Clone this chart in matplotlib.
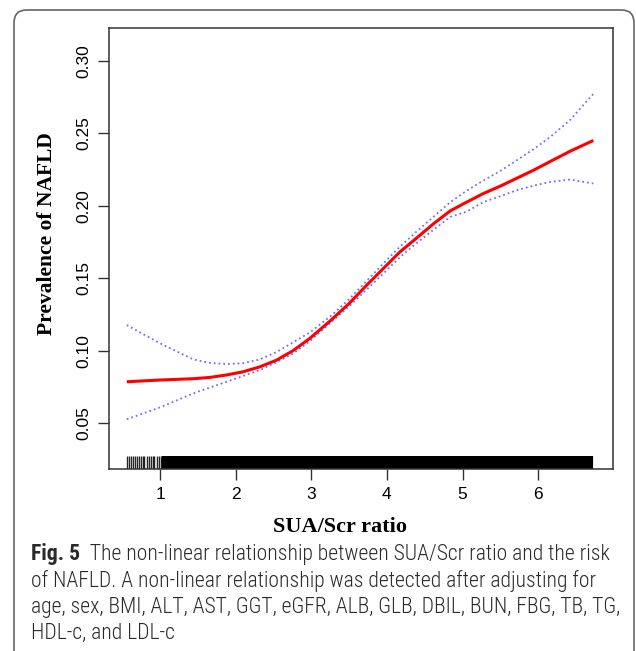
import numpy as np
import matplotlib
matplotlib.use('Agg')
import matplotlib.pyplot as plt
from matplotlib import font_manager
from matplotlib.patches import FancyBboxPatch

# fitted curve (red) and 95% CI (blue dotted)
ratio = [0.56, 1.00, 1.44, 1.66, 1.88, 2.10, 2.32, 2.54, 2.76, 2.98, 3.25, 3.50, 3.73,
         3.95, 4.17, 4.40, 4.62, 4.84, 5.06, 5.28, 5.50, 5.72, 5.94, 6.16, 6.42, 6.73]
fit = [0.0785, 0.0797, 0.0806, 0.0815, 0.0832, 0.0854, 0.0888, 0.0934, 0.1000, 0.1084,
       0.1205, 0.1325, 0.1450, 0.1565, 0.1680, 0.1780, 0.1877, 0.1965, 0.2026, 0.2085,
       0.2135, 0.2190, 0.2245, 0.2305, 0.2375, 0.2450]
upper = [0.1176, 0.1050, 0.0939, 0.0915, 0.0907, 0.0913, 0.0939, 0.0990, 0.1057, 0.1125,
         0.1235, 0.1355, 0.1480, 0.1600, 0.1716, 0.1825, 0.1925, 0.2025, 0.2105, 0.2175,
         0.2240, 0.2314, 0.2390, 0.2474, 0.2590, 0.2772]
lower = [0.0526, 0.0608, 0.0705, 0.0745, 0.0785, 0.0825, 0.0866, 0.0920, 0.0980, 0.1065,
         0.1190, 0.1305, 0.1420, 0.1530, 0.1643, 0.1745, 0.1835, 0.1923, 0.1960, 0.2026,
         0.2065, 0.2107, 0.2138, 0.2164, 0.2180, 0.2153]

# rug of observed SUA/Scr values
rug_sparse = [0.567, 0.594, 0.616, 0.639, 0.669, 0.692, 0.726, 0.744, 0.771, 0.792,
              0.824, 0.854, 0.877, 0.903, 0.925, 0.956, 0.987, 1.009, 1.030]
rug_dense = [1.05, 1.10, 1.15, 1.20, 1.25, 1.30, 1.35, 1.40, 1.45, 1.50, 1.55, 1.60,
             1.65, 1.70, 1.75, 1.80, 1.85, 1.90, 1.95, 2.00, 2.05, 2.10, 2.15, 2.20,
             2.25, 2.30, 2.35, 2.40, 2.45, 2.50, 2.55, 2.60, 2.65, 2.70, 2.75, 2.80,
             2.85, 2.90, 2.95, 3.00, 3.05, 3.10, 3.15, 3.20, 3.25, 3.30, 3.35, 3.40,
             3.45, 3.50, 3.55, 3.60, 3.65, 3.70, 3.75, 3.80, 3.85, 3.90, 3.95, 4.00,
             4.05, 4.10, 4.15, 4.20, 4.25, 4.30, 4.35, 4.40, 4.45, 4.50, 4.55, 4.60,
             4.65, 4.70, 4.75, 4.80, 4.85, 4.90, 4.95, 5.00, 5.05, 5.10, 5.15, 5.20,
             5.25, 5.30, 5.35, 5.40, 5.45, 5.50, 5.55, 5.60, 5.65, 5.70, 5.75, 5.80,
             5.85, 5.90, 5.95, 6.00, 6.05, 6.10, 6.15, 6.20, 6.25, 6.30, 6.35, 6.40,
             6.45, 6.50, 6.55, 6.60, 6.65, 6.70]

x_ticks = [1, 2, 3, 4, 5, 6]
y_ticks = [0.05, 0.10, 0.15, 0.20, 0.25, 0.30]

caption_bold = 'Fig. 5'
caption_lines = [
    '  The non-linear relationship between SUA/Scr ratio and the risk',
    'of NAFLD. A non-linear relationship was detected after adjusting for',
    'age, sex, BMI, ALT, AST, GGT, eGFR, ALB, GLB, DBIL, BUN, FBG, TB, TG,',
    'HDL-c, and LDL-c',
]


def pick_font(names):
    for n in names:
        try:
            font_manager.findfont(n, fallback_to_default=False)
            return n
        except Exception:
            pass
    return 'DejaVu Sans'


cap_font = pick_font(['Roboto Condensed', 'Liberation Sans Narrow', 'Open Sans'])

W, H = 636, 651
fig = plt.figure(figsize=(W / 100, H / 100), dpi=100)

# rounded frame around the figure panel
frame = FancyBboxPatch((14 / W, -0.2), (634 - 14) / W, 1.2 - 10 / H,
                       boxstyle='round,pad=0,rounding_size=0.02',
                       transform=fig.transFigure, fill=False,
                       edgecolor='#666666', lw=1.2)
fig.patches.append(frame)

ax = fig.add_axes([109 / W, 1 - 469 / H, (613 - 109) / W, (469 - 28) / H])

ax.plot(ratio, upper, color='#6f6fff', ls=':', lw=1.3)
ax.plot(ratio, lower, color='#6f6fff', ls=':', lw=1.3)
ax.plot(ratio, fit, color='red', lw=2.2, solid_capstyle='butt')

ax.vlines(rug_sparse, 0, 0.03, transform=ax.get_xaxis_transform(),
          color='black', lw=1.0, alpha=0.85)
ax.vlines(rug_dense, 0, 0.03, transform=ax.get_xaxis_transform(),
          color='black', lw=3.0)

ax.set_xlim(0.325, 6.99)
ax.set_ylim(0.0183, 0.3226)
ax.set_xticks(x_ticks)
ax.set_xticklabels([str(t) for t in x_ticks], family='Liberation Sans', fontsize=12.5)
ax.set_yticks(y_ticks)
ax.set_yticklabels(['%.2f' % t for t in y_ticks], family='Liberation Sans',
                   fontsize=12.5, rotation=90, va='center')
ax.tick_params(direction='out', length=8, width=1.0, color='#333333', pad=5)
for s in ax.spines.values():
    s.set_color('#333333')
    s.set_linewidth(1.1)

fig.text(340 / W, 1 - 527 / H, 'SUA/Scr ratio', family='Liberation Serif',
         weight='bold', fontsize=16, ha='center', va='center')
fig.text(47 / W, 1 - 234 / H, 'Prevalence of NAFLD', family='Liberation Serif',
         weight='bold', fontsize=15.5, ha='center', va='center', rotation=90)

# caption
cap_size = 15.6
cap_color = '#2a2a2a'
baselines = [560, 587, 613, 639]
r = fig.canvas.get_renderer()
t0 = fig.text(31 / W, 1 - baselines[0] / H, caption_bold, family=cap_font,
              weight='bold', fontsize=cap_size, va='baseline', color=cap_color)
bb = t0.get_window_extent(renderer=r)
fig.text(bb.x1 / W, 1 - baselines[0] / H, caption_lines[0], family=cap_font,
         weight='light', fontsize=cap_size, va='baseline', color=cap_color)
for line, b in zip(caption_lines[1:], baselines[1:]):
    fig.text(31 / W, 1 - b / H, line, family=cap_font, weight='light',
             fontsize=cap_size, va='baseline', color=cap_color)

fig.savefig('out.png', dpi=100)
